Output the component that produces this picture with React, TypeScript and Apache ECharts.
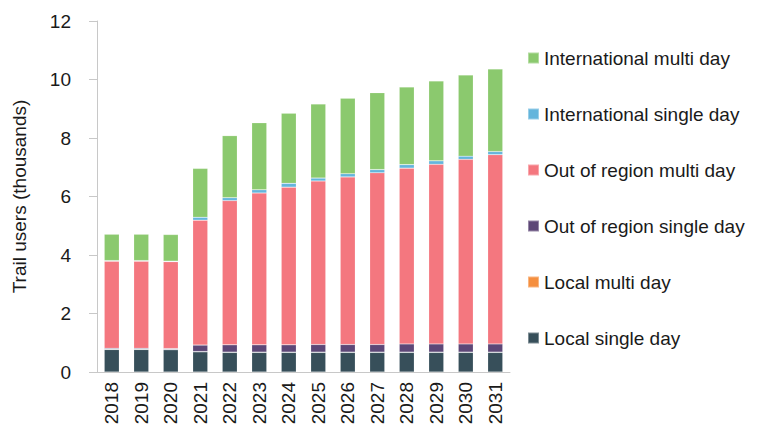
import React, { useEffect, useRef } from "react";
import * as echarts from "echarts";

const years = ["2018", "2019", "2020", "2021", "2022", "2023", "2024", "2025", "2026", "2027", "2028", "2029", "2030", "2031"];
const localSingle = [0.77, 0.77, 0.76, 0.69, 0.67, 0.67, 0.67, 0.67, 0.67, 0.67, 0.67, 0.67, 0.67, 0.67];
const localMulti = [0.01, 0.01, 0.01, 0.01, 0.01, 0.01, 0.01, 0.01, 0.01, 0.01, 0.01, 0.01, 0.01, 0.01];
const outSingle = [0.03, 0.03, 0.03, 0.22, 0.25, 0.25, 0.25, 0.26, 0.26, 0.26, 0.28, 0.28, 0.28, 0.28];
const outMulti = [2.98, 2.98, 2.97, 4.27, 4.93, 5.19, 5.39, 5.59, 5.73, 5.87, 6.01, 6.14, 6.31, 6.47];
const intlSingle = [0.02, 0.02, 0.02, 0.1, 0.1, 0.11, 0.13, 0.1, 0.11, 0.11, 0.12, 0.12, 0.11, 0.11];
const intlMulti = [0.9, 0.9, 0.91, 1.67, 2.12, 2.29, 2.4, 2.53, 2.58, 2.63, 2.65, 2.73, 2.77, 2.82];
const yTicks = [0, 2, 4, 6, 8, 10, 12];

const seriesDefs = [
  { name: "Local single day", data: localSingle, color: "#374f5a" },
  { name: "Local multi day", data: localMulti, color: "#f58f3f" },
  { name: "Out of region single day", data: outSingle, color: "#5d4777" },
  { name: "Out of region multi day", data: outMulti, color: "#f4777f" },
  { name: "International single day", data: intlSingle, color: "#64b5dc" },
  { name: "International multi day", data: intlMulti, color: "#8bc96e" },
];

export default function App() {
  const ref = useRef<HTMLDivElement>(null);
  useEffect(() => {
    if (!ref.current) return;
    const chart = echarts.init(ref.current, null, { renderer: "svg" });
    const font = "Liberation Sans, Arial, sans-serif";
    chart.setOption({
      animation: false,
      textStyle: { fontFamily: font },
      grid: { left: 97, right: 247, top: 21, bottom: 58, containLabel: false },
      legend: {
        orient: "vertical",
        left: 527,
        top: 48,
        padding: 0,
        itemWidth: 11,
        itemHeight: 11,
        itemGap: 36,
        icon: "rect",
        data: seriesDefs.map((s) => s.name).reverse(),
        textStyle: { fontSize: 19, color: "#1a1a1a", fontFamily: font, lineHeight: 20 },
      },
      xAxis: {
        type: "category",
        data: years,
        axisLine: { lineStyle: { color: "#c8c8c8", width: 1 } },
        axisTick: { show: false },
        axisLabel: { rotate: 90, fontSize: 19, color: "#1a1a1a", margin: 10, fontFamily: font },
      },
      yAxis: {
        type: "value",
        min: yTicks[0],
        max: yTicks[yTicks.length - 1],
        interval: 2,
        name: "Trail users (thousands)",
        nameLocation: "middle",
        nameGap: 68,
        nameTextStyle: { fontSize: 19, color: "#1a1a1a", fontFamily: font },
        axisLine: { show: true, lineStyle: { color: "#c8c8c8", width: 1 } },
        axisTick: { show: true, length: 8, lineStyle: { color: "#c8c8c8" } },
        splitLine: { show: false },
        axisLabel: { fontSize: 19, color: "#1a1a1a", margin: 26, fontFamily: font },
      },
      series: seriesDefs.map((s) => ({
        name: s.name,
        type: "bar",
        stack: "total",
        barWidth: 15,
        data: s.data,
        itemStyle: { color: s.color, borderColor: "rgba(255,255,255,0.35)", borderWidth: 0.5 },
      })),
    });
    return () => chart.dispose();
  }, []);
  return <div ref={ref} style={{ width: 757, height: 430, marginLeft: -8, marginTop: -8 }} />;
}
